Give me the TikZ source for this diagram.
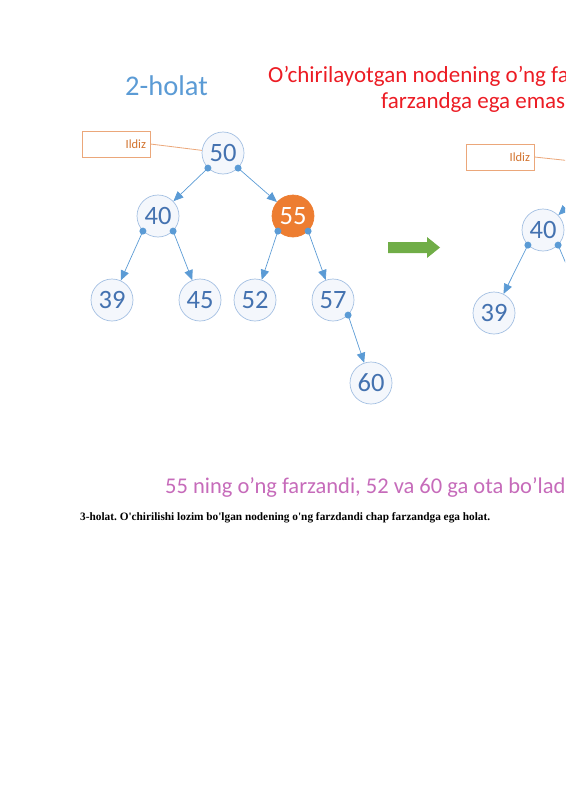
\documentclass[tikz,border=0pt]{standalone}
\usepackage{fontspec}
\setmainfont{Carlito}
\newfontfamily\capfont{Liberation Serif}
\usetikzlibrary{arrows.meta,positioning}
\definecolor{edgeblue}{HTML}{5B9BD5}
\definecolor{ringblue}{HTML}{A3BFE2}
\definecolor{numblue}{HTML}{4472B0}
\definecolor{cellfill}{HTML}{F4F7FC}
\definecolor{delorange}{HTML}{ED7D31}
\definecolor{boxorange}{HTML}{EBA77A}
\definecolor{txtorange}{HTML}{D2732E}
\definecolor{titlered}{HTML}{EC1C24}
\definecolor{notepink}{HTML}{C66BBA}
\definecolor{arrowgreen}{HTML}{70AD47}
\frenchspacing

\begin{document}
\begin{tikzpicture}[x=1pt,y=-1pt,
    num/.style={circle,draw=ringblue,fill=cellfill,line width=.7pt,minimum
        size=42pt,inner sep=0pt,text=numblue,font=\fontsize{26.5}{26}\selectfont},
    del/.style={num,draw=delorange,fill=delorange,text=white},
    dot/.style={circle,fill=edgeblue,inner sep=0pt,minimum size=7pt},
    link/.style={draw=edgeblue,line width=.7pt,-{Triangle[length=10pt,width=8.5pt]}},
    ildiz/.style={draw=boxorange,line width=.8pt,text width=60pt,inner
        sep=4pt,minimum height=26pt,align=right,text=txtorange,
        font=\fontsize{12.5}{12}\selectfont}]

    \useasboundingbox (0,0) rectangle (565,800);
    \clip (0,0) rectangle (565,800);

    % the texts
    \node[anchor=base west,text=edgeblue,font=\fontsize{28.5}{28}\selectfont,inner sep=0pt]
        (title) at (125,95) {2-holat};
    \node[anchor=base west,text=titlered,font=\fontsize{23}{23}\selectfont,inner sep=0pt]
        (head1) at (268,82) {O’chirilayotgan nodening o’ng farzandi chap};
    \node[anchor=base west,text=titlered,font=\fontsize{23}{23}\selectfont,inner sep=0pt]
        (head2) at (381,108) {farzandga ega emas};
    \node[anchor=base west,text=notepink,font=\fontsize{22.5}{22}\selectfont,inner sep=0pt]
        (note) at (165,493) {55 ning o’ng farzandi, 52 va 60 ga ota bo’ladi};
    \node[anchor=base west,inner sep=0pt,font=\capfont\bfseries\fontsize{11.3}{13}\selectfont]
        (caption) at (80,520) {3-holat. O'chirilishi lozim bo'lgan nodening o'ng farzdandi chap farzandga ega holat.};

    % the left tree
    \node[num] (n50) at (223,153) {50};
    \node[num] (n40) at (158,216) {40};
    \node[del] (n55) at (293,216) {55};
    \node[num] (n39) at (112,300) {39};
    \node[num] (n45) at (200,300) {45};
    \node[num] (n52) at (255,300) {52};
    \node[num] (n57) at (333,300) {57};
    \node[num] (n60) at (371,383) {60};

    \node[ildiz] (il1) at (116,144) {Ildiz};
    \draw[boxorange,line width=.8pt] (il1.east) -- (n50);

    \node[dot] (d50l) at (n50.-135) {};
    \node[dot] (d50r) at (n50.-45) {};
    \node[dot] (d40l) at (n40.-135) {};
    \node[dot] (d40r) at (n40.-45) {};
    \node[dot] (d55l) at (n55.-135) {};
    \node[dot] (d55r) at (n55.-45) {};
    \node[dot] (d57r) at (n57.-45) {};

    \draw[link] (d50l.center) -- (n40);
    \draw[link] (d50r.center) -- (n55);
    \draw[link] (d40l.center) -- (n39);
    \draw[link] (d40r.center) -- (n45);
    \draw[link] (d55l.center) -- (n52);
    \draw[link] (d55r.center) -- (n57);
    \draw[link] (d57r.center) -- (n60);

    % the green arrow
    \fill[arrowgreen] (388,242) -- (427,242) -- (427,237) -- (440,247.5)
        -- (427,258) -- (427,253) -- (388,253) -- cycle;

    % the right tree
    \node[num] (m40) at (543,230) {40};
    \node[num] (m39) at (494,313) {39};
    \node[num] (m45) at (587,313) {45};
    \coordinate (mroot) at (606,169);
    \coordinate (mrootw) at (600,164);

    \node[ildiz] (il2) at (500,157) {Ildiz};
    \draw[boxorange,line width=.8pt] (il2.east) -- (mrootw);

    \node[dot] (e40l) at (m40.-135) {};
    \node[dot] (e40r) at (m40.-45) {};

    \draw[link] (mroot) -- (m40);
    \draw[link] (e40l.center) -- (m39);
    \draw[link] (e40r.center) -- (m45);

\end{tikzpicture}
\end{document}
